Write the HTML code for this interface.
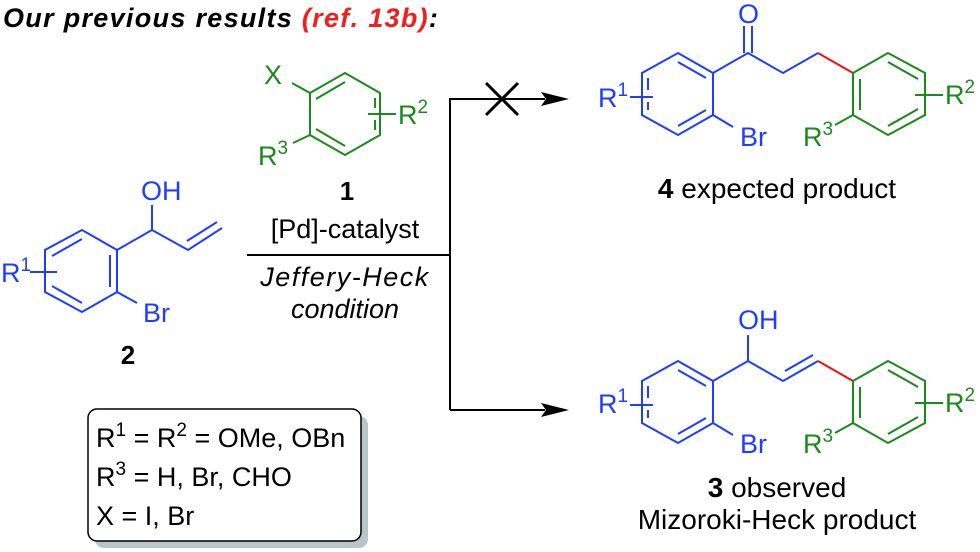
<!DOCTYPE html>
<html><head><meta charset="utf-8"><style>
html,body{margin:0;padding:0;background:#fff}
svg{display:block}
text{font-family:"Liberation Sans",sans-serif}
</style></head><body>
<svg width="980" height="552" viewBox="0 0 980 552" xmlns="http://www.w3.org/2000/svg">
<text x="3" y="27" font-size="27" font-weight="bold" font-style="italic" letter-spacing="1.3"><tspan fill="#000">Our previous results </tspan><tspan fill="#f02020">(ref. 13b)</tspan><tspan fill="#000">:</tspan></text>

<!-- compound 1 green -->
<g stroke="#1a8a1a" stroke-width="2" fill="none">
<polygon points="345,73 380,93 380,135 345,155 310,135 310,93"/>
<line x1="316" y1="99" x2="345" y2="82"/>
<line x1="316" y1="129" x2="345" y2="146"/>
<line x1="375" y1="98" x2="375" y2="108"/><line x1="375" y1="120" x2="375" y2="130"/>
<line x1="310" y1="93" x2="292" y2="83"/>
<line x1="310" y1="135" x2="293" y2="143"/>
<line x1="368" y1="114" x2="396" y2="114"/>
</g>
<g fill="#1a8a1a" font-size="27">
<text x="264" y="84">X</text>
<text x="258" y="165">R<tspan font-size="19" dy="-11">3</tspan></text>
<text x="398" y="124">R<tspan font-size="19" dy="-11">2</tspan></text>
</g>
<text x="347" y="200" font-size="26" font-weight="bold" text-anchor="middle">1</text>
<text x="345" y="238" font-size="27" text-anchor="middle">[Pd]-catalyst</text>
<line x1="247" y1="255" x2="450" y2="255" stroke="#000" stroke-width="2"/>
<text x="345" y="286" font-size="27" font-style="italic" text-anchor="middle" letter-spacing="1.5">Jeffery-Heck</text>
<text x="345" y="318" font-size="27" font-style="italic" text-anchor="middle">condition</text>

<!-- arrows -->
<g stroke="#000" stroke-width="2" fill="none">
<polyline points="450,410 450,99 545,99"/>
<line x1="450" y1="410" x2="545" y2="410"/>
<line x1="486" y1="83" x2="518" y2="115" stroke-width="3"/>
<line x1="518" y1="83" x2="486" y2="115" stroke-width="3"/>
</g>
<polygon points="541,92 569,99 541,106 546,99" fill="#000"/>
<polygon points="541,403 569,410 541,417 546,410" fill="#000"/>

<!-- compound 2 blue -->
<g stroke="#1f3dff" stroke-width="2" fill="none">
<polygon points="82,230 117,250 117,292 82,312 45,292 45,250"/>
<line x1="52" y1="256" x2="82" y2="239"/>
<line x1="52" y1="286" x2="82" y2="303"/>
<line x1="110" y1="255" x2="110" y2="287"/>
<polyline points="117,250 152,230 188,250 222,228"/>
<line x1="187" y1="241" x2="217" y2="222"/>
<line x1="152" y1="230" x2="152" y2="205"/>
<line x1="117" y1="292" x2="137" y2="303"/>
<line x1="30" y1="272" x2="57" y2="272"/>
</g>
<g fill="#1f3dff" font-size="27">
<text x="141" y="200">OH</text>
<text x="143" y="322">Br</text>
<text x="1" y="282">R<tspan font-size="19" dy="-11">1</tspan></text>
</g>
<text x="128" y="364" font-size="26" font-weight="bold" text-anchor="middle">2</text>

<!-- box -->
<rect x="95" y="416" width="273" height="132" rx="9" fill="#b8c6ca"/>
<rect x="88" y="409" width="273" height="132" rx="9" fill="#fff" stroke="#000" stroke-width="1.5"/>
<g font-size="27">
<text x="96" y="447">R<tspan font-size="19" dy="-11">1</tspan><tspan dy="11"> = R</tspan><tspan font-size="19" dy="-11">2</tspan><tspan dy="11"> = OMe, OBn</tspan></text>
<text x="96" y="486">R<tspan font-size="19" dy="-11">3</tspan><tspan dy="11"> = H, Br, CHO</tspan></text>
<text x="96" y="525">X = I, Br</text>
</g>

<!-- product 4 -->
<g stroke="#1f3dff" stroke-width="2" fill="none">
<polygon points="678,53 713,73 713,115 678,135 642,115 642,73"/>
<line x1="678" y1="62" x2="706" y2="78"/>
<line x1="678" y1="126" x2="706" y2="110"/>
<line x1="648" y1="78" x2="648" y2="90"/><line x1="648" y1="102" x2="648" y2="110"/>
<polyline points="713,73 748,53 783,73 818,53"/>
<line x1="744" y1="53" x2="744" y2="26"/><line x1="752" y1="53" x2="752" y2="26"/>
<line x1="713" y1="115" x2="733" y2="127"/>
<line x1="630" y1="97" x2="653" y2="97"/>
</g>
<line x1="818" y1="53" x2="853" y2="73" stroke="#f01010" stroke-width="2"/>
<g stroke="#1a8a1a" stroke-width="2" fill="none">
<polygon points="888,53 925,73 925,115 888,135 853,115 853,73"/>
<line x1="888" y1="62" x2="918" y2="79"/>
<line x1="888" y1="126" x2="918" y2="109"/>
<line x1="860" y1="79" x2="860" y2="110"/>
<line x1="915" y1="95" x2="943" y2="95"/>
<line x1="853" y1="115" x2="835" y2="125"/>
</g>
<g fill="#1f3dff" font-size="27">
<text x="738" y="23">O</text>
<text x="740" y="146">Br</text>
<text x="598" y="107">R<tspan font-size="19" dy="-11">1</tspan></text>
</g>
<g fill="#1a8a1a" font-size="27">
<text x="945" y="104">R<tspan font-size="19" dy="-11">2</tspan></text>
<text x="803" y="146">R<tspan font-size="19" dy="-11">3</tspan></text>
</g>
<text x="777" y="198" font-size="28" text-anchor="middle"><tspan font-weight="bold">4</tspan> expected product</text>

<!-- product 3 -->
<g stroke="#1f3dff" stroke-width="2" fill="none">
<polygon points="678,361 713,381 713,423 678,443 642,423 642,381"/>
<line x1="678" y1="370" x2="706" y2="386"/>
<line x1="678" y1="434" x2="706" y2="418"/>
<line x1="648" y1="386" x2="648" y2="398"/><line x1="648" y1="410" x2="648" y2="418"/>
<polyline points="713,381 748,361 783,381 818,361"/>
<line x1="785" y1="371" x2="813" y2="355"/>
<line x1="748" y1="361" x2="748" y2="335"/>
<line x1="713" y1="423" x2="733" y2="435"/>
<line x1="630" y1="405" x2="653" y2="405"/>
</g>
<line x1="818" y1="361" x2="853" y2="381" stroke="#f01010" stroke-width="2"/>
<g stroke="#1a8a1a" stroke-width="2" fill="none">
<polygon points="888,361 925,381 925,423 888,443 853,423 853,381"/>
<line x1="888" y1="370" x2="918" y2="387"/>
<line x1="888" y1="434" x2="918" y2="417"/>
<line x1="860" y1="387" x2="860" y2="418"/>
<line x1="915" y1="403" x2="943" y2="403"/>
<line x1="853" y1="423" x2="835" y2="433"/>
</g>
<g fill="#1f3dff" font-size="27">
<text x="738" y="329">OH</text>
<text x="740" y="453">Br</text>
<text x="598" y="413">R<tspan font-size="19" dy="-11">1</tspan></text>
</g>
<g fill="#1a8a1a" font-size="27">
<text x="945" y="412">R<tspan font-size="19" dy="-11">2</tspan></text>
<text x="803" y="453">R<tspan font-size="19" dy="-11">3</tspan></text>
</g>
<text x="777" y="497" font-size="28" text-anchor="middle"><tspan font-weight="bold">3</tspan> observed</text>
<text x="777" y="529" font-size="28" text-anchor="middle">Mizoroki-Heck product</text>
</svg>
</body></html>
